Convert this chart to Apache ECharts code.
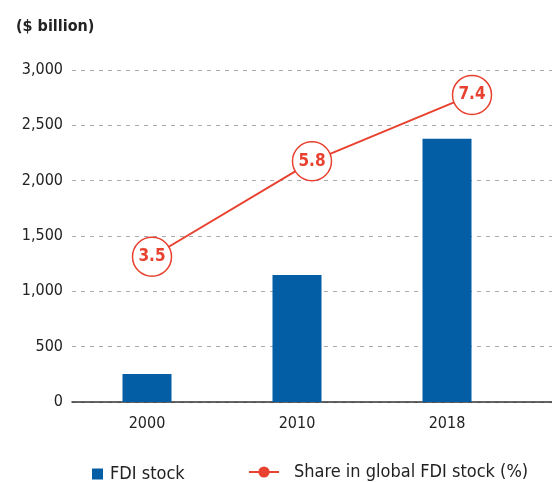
<!DOCTYPE html>
<html>
<head>
<meta charset="utf-8">
<script src="https://cdn.jsdelivr.net/npm/echarts@6/dist/echarts.min.js"></script>
<style>
    html, body { margin: 0; padding: 0; background: #fff; }
    #chart { width: 552px; height: 482px; }
</style>
</head>
<body>
<div id="chart"></div>
<script>
// chart data
const years = ["2000", "2010", "2018"];
const fdiStock = [252, 1147, 2378];       // $ billion
const globalShare = [3.5, 5.8, 7.4];      // %

const FONT = '"DejaVu Sans Condensed", "Liberation Sans", sans-serif';
const RED = "#e8412f";
const BLUE = "#035ea6";

const myChart = echarts.init(document.getElementById("chart"));

const option = {
    animation: false,
    textStyle: { fontFamily: FONT },
    title: {
        text: "($ billion)",
        left: 11,
        top: 14,
        textStyle: { fontFamily: FONT, fontSize: 16, fontWeight: "bold", color: "#222" }
    },
    grid: { left: 72, right: 0, top: 70, bottom: 80 },
    legend: [
        {
            left: 92,
            top: 465,
            padding: 0,
            itemWidth: 11,
            itemHeight: 11,
            data: [{ name: "FDI stock", icon: "rect" }],
            textStyle: { fontFamily: FONT, fontSize: 18, color: "#222", padding: [0, 0, 0, 2] }
        },
        {
            left: 248,
            top: 463,
            padding: 0,
            itemWidth: 30,
            itemHeight: 14,
            data: [{
                name: "Share in global FDI stock (%)",
                itemStyle: { color: RED, borderColor: RED, borderWidth: 0 },
                lineStyle: { color: RED, width: 2 }
            }],
            textStyle: { fontFamily: FONT, fontSize: 18, color: "#222", padding: [0, 0, 0, 10] }
        }
    ],
    xAxis: [
        {
            // bars + year labels
            type: "value",
            min: -0.5,
            max: 2.7,
            interval: 0.5,
            splitLine: { show: false },
            axisTick: { show: false },
            axisLine: { show: true, lineStyle: { color: "#333", width: 1.5 } },
            axisLabel: {
                fontFamily: FONT,
                fontSize: 16,
                color: "#222",
                margin: 14,
                showMinLabel: true,
                showMaxLabel: false,
                formatter: v => (Number.isInteger(v) && years[v]) ? years[v] : ""
            }
        },
        {
            // line series
            type: "category",
            show: false,
            boundaryGap: true,
            data: years
        }
    ],
    yAxis: [
        {
            type: "value",
            min: 0,
            max: 3000,
            interval: 500,
            axisLine: { show: false },
            axisTick: { show: false },
            axisLabel: {
                fontFamily: FONT,
                fontSize: 16,
                color: "#222",
                margin: 9,
                formatter: v => v.toLocaleString("en-US")
            },
            splitLine: {
                lineStyle: { color: "#aaa", type: [4, 5], width: 1 }
            }
        },
        {
            type: "value",
            min: 0,
            max: 8,
            show: false,
            splitLine: { show: false }
        }
    ],
    series: [
        {
            name: "FDI stock",
            type: "bar",
            xAxisIndex: 0,
            yAxisIndex: 0,
            barWidth: 49,
            itemStyle: { color: BLUE },
            data: fdiStock.map((v, i) => [i, v])
        },
        {
            name: "Share in global FDI stock (%)",
            type: "line",
            xAxisIndex: 1,
            yAxisIndex: 1,
            z: 5,
            symbol: "circle",
            symbolSize: 39,
            lineStyle: { color: RED, width: 2 },
            itemStyle: { color: "#fff", borderColor: RED, borderWidth: 1.5 },
            label: {
                show: true,
                position: "inside",
                fontFamily: FONT,
                fontSize: 17,
                fontWeight: "bold",
                color: RED,
                formatter: p => p.value.toFixed(1)
            },
            data: globalShare
        }
    ]
};

myChart.setOption(option);
</script>
</body>
</html>
